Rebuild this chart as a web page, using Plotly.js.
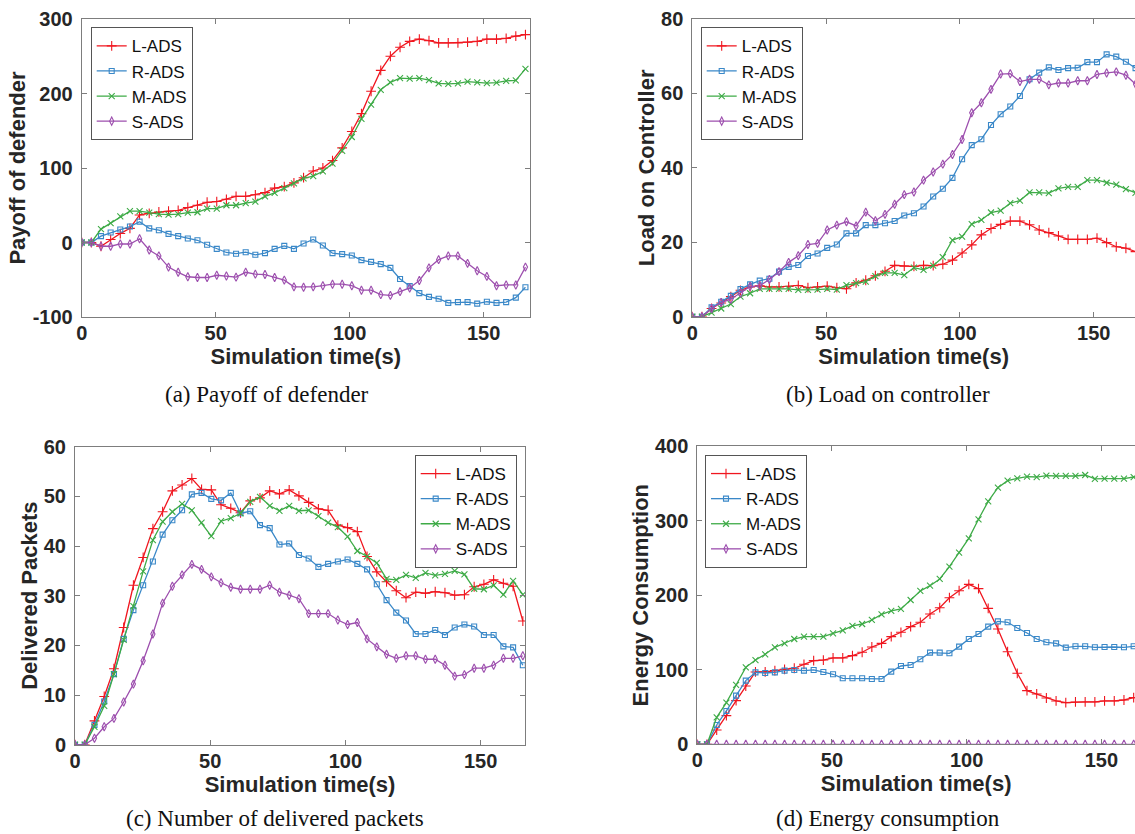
<!DOCTYPE html>
<html><head><meta charset="utf-8">
<script src="https://cdn.plot.ly/plotly-3.0.1.min.js"></script>
<style>html,body{margin:0;padding:0;background:#fff}#chart{width:1135px;height:834px}</style>
</head><body><div id="chart"></div>
<script>
// Simulation time (s)
const time = [0,3.6,7.2,10.8,14.4,18,21.6,25.2,28.8,32.4,36,39.6,43.2,46.8,50.4,54,57.6,61.2,64.8,68.4,72,75.6,79.2,82.8,86.4,90,93.6,97.2,100.8,104.4,108,111.6,115.2,118.8,122.4,126,129.6,133.2,136.8,140.4,144,147.6,151.2,154.8,158.4,162,165.6];
const seriesNames = ['L-ADS','R-ADS','M-ADS','S-ADS'];

// (a) Payoff of defender
const payoffL = [0,0,-5,4,12,19,37,39,41,42,43,47,50,54,55,58,62,62,64,67,73,75,80,87,96,100,110,127,149,173,203,231,250,262,270,273,271,268,268,268,269,270,273,273,274,277,279];
const payoffR = [0,0,8.5,13.4,17.4,21.4,28,19,16.5,11.6,8.5,5.4,3,-3,-8.5,-13.4,-15,-13,-16.5,-14.3,-8.5,-4.5,-8.5,-1.3,4,-4,-14.3,-15.6,-17.4,-23.7,-26,-29,-34,-49,-58.5,-68,-73,-75.5,-81,-80,-80,-82,-79.5,-81,-80,-74,-60];
const payoffM = [0,0,18,26,35,42,42,40,38,37.5,38,40,40.6,45.6,45.6,50,50,53,55,62,66.6,73,79.5,86,89,95.6,106,123,141.6,166,185,205,215,220.7,220,220.7,218,213.6,213,213.6,216,215,214,214.5,217,217.6,233];
const payoffS = [0,0,-5,-5,-2,-2,5,-10,-18,-33,-40,-46,-47,-47,-44,-45,-46.5,-40,-42.5,-43,-47,-50.5,-59.5,-60,-59.5,-58,-56,-56,-58,-64,-64,-70,-71,-66,-61,-51,-34,-23,-18,-18,-28,-38,-45.5,-58,-57,-57,-33];

// (b) Load on controller
const loadL = [0,0,2.2,3.7,5.4,7.1,8,8.3,8,8,8.1,8.4,7.8,8,8.2,7.8,7.5,9.1,9.8,11,12.2,13.8,13.6,13.5,13.8,13.7,14.1,15.2,17.1,19.3,22,23.7,24.8,25.7,25.7,24.7,23.3,22.6,21.7,20.8,20.8,20.8,21.1,19.9,18.8,18.4,17.5];
const loadR = [0,0,2.5,4,5.6,7.4,8.7,9.7,10.2,12.1,13.4,13.9,16.3,17,18.5,19.4,22.4,22.4,24.6,24.6,25.1,25.7,27.2,27.8,29.6,32.3,34.4,37.3,42.3,46.1,47.7,51.5,54.4,56.5,59.3,63.8,65.6,67,66.3,66.8,66.9,68.4,68.4,70.5,69.9,68.5,66.8];
const loadM = [0,0,1.1,2.2,3.4,5.4,6.3,7.5,7.5,7.5,7.5,7.2,7.2,7.3,7.5,7.3,8.5,9,9.4,10.9,11.8,11.8,11.2,13.2,12.6,13.7,16,20.6,21.5,24.9,26,28,28.5,30.5,31.2,33.4,33.4,33.2,34.5,34.9,34.9,36.7,36.7,36,35.5,34.3,33.3];
const loadS = [0,0,2.2,3.8,4.7,6.3,8.1,8.3,10,12.1,14.6,16.4,19.4,19.7,23.3,24.6,25.5,24.4,28.1,25.8,27.5,30.2,32.8,33.5,36.7,38.9,41,43.6,47.6,54.8,57.5,61.1,65.2,65.3,63.2,63.8,63.8,62.3,62.8,62.8,63.4,63.4,65.1,65.5,65.8,64.9,62.5];

// (c) Number of delivered packets
const packetsL = [0,0,4.8,9.7,15.3,23.6,32.1,37.7,43.5,46.9,51.1,52.3,53.6,51.4,51.3,48.3,47.6,46.7,49.1,49.7,51.1,50.5,51.3,50.1,48.8,47.5,47.2,44.2,43.7,42.9,37.9,34.8,32.8,31,29.6,30.7,30.5,30.8,30.6,30.1,30.2,31.8,32.3,33.2,32.5,31.9,24.9];
const packetsR = [0,0,4,8.7,14.2,21.3,27.1,32.1,36.9,42.3,45.2,47.2,50.4,50.7,49.5,49.2,50.7,46.6,47,44.2,43.6,40.3,40.5,38.2,37.5,35.8,36.4,36.9,37.3,36.4,35.3,32.3,29.1,26.6,25,22.3,22.3,23.1,22.1,23.6,24.2,23.8,22.1,22.1,19.8,19.6,16];
const packetsM = [0,0,3.6,7.8,14.2,21.1,27.9,34.9,41.2,44.9,46.9,48.5,47.2,44.7,42,45,45.6,46.6,48.9,49.9,48.1,47.1,48.1,47.1,47.2,46,44.7,43.8,41.9,39,37.9,36.6,33.4,33.2,34.2,33.6,34.6,34.1,34.4,35,34.3,31.4,31.3,32.1,30.2,33,30.2];
const packetsS = [0,0,1.3,3.6,5.3,8.6,12.2,16.9,22.3,28.5,31.9,34.2,36.3,35.3,33.8,32.6,31.7,31.3,31.3,31.3,32.1,30.7,30.1,29.4,26.4,26.4,26.4,25.1,24.2,24.6,21.3,19.7,18.2,17.4,17.9,17.9,17.2,17.2,16,13.8,14.1,15.4,15.4,16,17.4,17.4,17.9];

// (d) Energy consumption
const energyL = [0,0,19.2,38.4,58.5,78.2,97,97,98.8,100.6,102,107.3,112.2,113,115.8,115.8,118.9,123.4,130.5,135.4,144.4,150.2,157.8,163.6,174.7,183.2,196.6,206,214.5,208.7,182.3,154.6,124.2,95.2,72,67.5,62.1,58.1,55.9,56.8,56.8,56.8,58.1,58.1,59.4,62.6,63];
const energyR = [0,0,25.9,44.7,65.3,85.4,96.5,95.6,96.5,98.8,99.7,98.8,99.7,97,93.9,88.5,88.5,88.5,87.6,87.6,97.4,105,106.4,114,122.9,122.9,122,131,141.2,148,157.8,164.9,163.6,156,149.3,141.2,136.8,135.4,129.6,131.4,131.4,130.1,130.5,130.5,130.1,131.4,131];
const energyM = [0,0,36.2,55.9,79.6,103.2,113,120.7,130.1,135.4,141.2,144.4,144.4,144.4,148.8,152.8,158.7,161.3,166.7,174.3,178.8,181.5,193.5,205.6,212.7,221.7,238.2,257,276.2,301.7,325.8,344.1,353.5,356.6,358.9,358.4,360.2,359.8,359.8,359.8,361.1,355.8,356.2,356.2,356.2,358.4,359];
const energyS = [0,0,0,0,0,0,0,0,0,0,0,0,0,0,0,0,0,0,0,0,0,0,0,0,0,0,0,0,0,0,0,0,0,0,0,0,0,0,0,0,0,0,0,0,0,0,0];

// Axis texts and tick labels
const xTitle = 'Simulation time(s)';
const yTitles = ['Payoff of defender','Load on Controller','Delivered Packets','Energy Consumption'];
const captions = ['(a) Payoff of defender','(b) Load on controller','(c) Number of delivered packets','(d) Energy consumption'];
const xTickVals = [0,50,100,150];
const payoffTickVals = [-100,0,100,200,300];
const payoffTickText = ['-100','0','100','200','300'];

// Styles
const styles = [
  {color:'#f0161f', symbol:'cross-thin', size:7},
  {color:'#3a88c8', symbol:'square-open', size:5},
  {color:'#3eab47', symbol:'x-thin', size:6},
  {color:'#9d4fae', symbol:'diamond-tall-open', size:6}
];

const panels = [
  {data:[payoffL,payoffR,payoffM,payoffS], xa:'x', ya:'y', lg:'legend'},
  {data:[loadL,loadR,loadM,loadS], xa:'x2', ya:'y2', lg:'legend2'},
  {data:[packetsL,packetsR,packetsM,packetsS], xa:'x3', ya:'y3', lg:'legend3'},
  {data:[energyL,energyR,energyM,energyS], xa:'x4', ya:'y4', lg:'legend4'}
];

const traces = [];
panels.forEach(p => {
  p.data.forEach((vals, k) => {
    const s = styles[k];
    traces.push({
      type:'scatter', mode:'lines+markers', x: time, y: vals,
      name: seriesNames[k], xaxis: p.xa, yaxis: p.ya, legend: p.lg,
      line:{color:s.color, width:1.3},
      marker:{symbol:s.symbol, size:s.size, color:s.color, line:{color:s.color, width:1.1}},
      cliponaxis:true
    });
  });
});

const W = 1135, H = 834;
const AX = '#7d7d7d';
const tickFont = {family:'Liberation Sans, Arial, sans-serif', size:20, color:'#262626', weight:'bold'};
const titleFont = {family:'Liberation Sans, Arial, sans-serif', size:22, color:'#262626', weight:'bold'};

function xax(dom, range, anchor){
  return {domain:dom, range:range, autorange:false, anchor:anchor, tickvals:xTickVals, ticks:'inside', ticklen:5, tickcolor:AX,
    showline:true, linecolor:AX, linewidth:1, mirror:'ticks', showgrid:false, zeroline:false,
    tickfont:tickFont, ticklabelstandoff:-2, title:{text:xTitle, font:titleFont, standoff:2}};
}
function yax(dom, range, dtick, title, mirror, anchor){
  return {domain:dom, range:range, autorange:false, anchor:anchor, dtick:dtick, tick0:0, ticks:'inside', ticklen:5, tickcolor:AX,
    showline:true, linecolor:AX, linewidth:1, mirror:mirror, showgrid:false, zeroline:false,
    tickfont:tickFont, ticklabelstandoff:4, title:{text:title, font:titleFont, standoff:0}};
}
function legendAt(x, y, xanchor){
  return {x:x, y:y, xanchor:xanchor, yanchor:'top', xref:'paper', yref:'paper',
    bgcolor:'#ffffff', bordercolor:'#555555', borderwidth:1, tracegroupgap:0,
    font:{family:'Liberation Sans, Arial, sans-serif', size:17, color:'#111111'}};
}

const yA = yax([1-317/H, 1-19/H], [-100,300], 100, yTitles[0], 'ticks', 'x');
yA.tickvals = payoffTickVals; yA.ticktext = payoffTickText;

const layout = {
  width:W, height:H, margin:{l:0,r:0,t:0,b:0}, paper_bgcolor:'#fff', plot_bgcolor:'#fff', showlegend:true,
  xaxis: xax([81.7/W, 530/W], [0,167.3], 'y'),
  yaxis: yA,
  xaxis2: xax([692.3/W, 1], [0,165.4], 'y2'),
  yaxis2: yax([1-316.7/H, 1-19/H], [0,80], 20, yTitles[1], false, 'x2'),
  xaxis3: xax([75/W, 525/W], [0,166.4], 'y3'),
  yaxis3: yax([1-744.7/H, 1-446.7/H], [0,60], 10, yTitles[2], 'ticks', 'x3'),
  xaxis4: xax([697.3/W, 1], [0,162.5], 'y4'),
  yaxis4: yax([1-744.3/H, 1-446/H], [0,400], 100, yTitles[3], false, 'x4'),
  legend: legendAt(90.7/W, 1-27.3/H, 'left'),
  legend2: legendAt(700.7/W, 1-27.3/H, 'left'),
  legend3: legendAt(516.7/W, 1-455/H, 'right'),
  legend4: legendAt(705/W, 1-455/H, 'left'),
  annotations: [
    {text:captions[0], x:267/W, y:1-395/H},
    {text:captions[1], x:888/W, y:1-395/H},
    {text:captions[2], x:275/W, y:1-818/H},
    {text:captions[3], x:888/W, y:1-818/H}
  ].map(a => Object.assign(a, {xref:'paper', yref:'paper', xanchor:'center', yanchor:'middle', showarrow:false,
     font:{family:'Liberation Serif, Times New Roman, serif', size:23, color:'#111'}}))
};

Plotly.newPlot('chart', traces, layout, {displayModeBar:false, staticPlot:true});
</script></body></html>
